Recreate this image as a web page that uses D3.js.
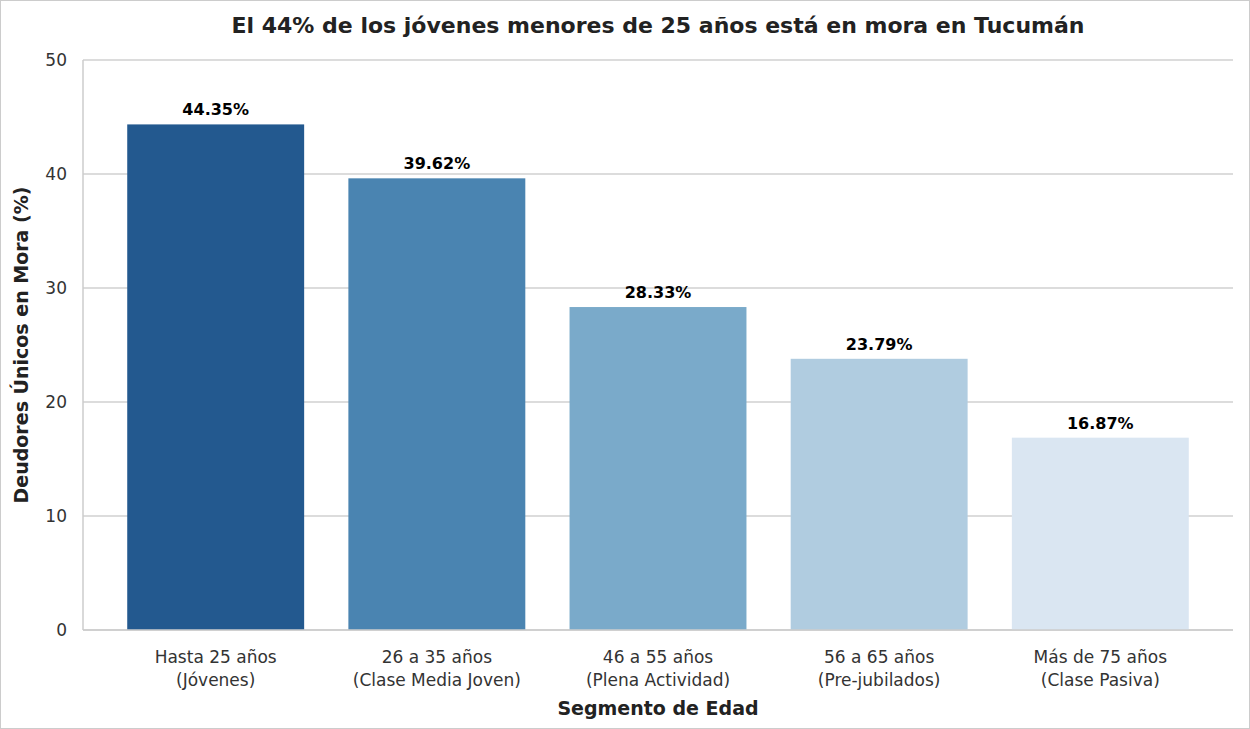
<!DOCTYPE html>
<html><head><meta charset="utf-8">
<script src="https://cdn.jsdelivr.net/npm/d3@7"></script>
<style>body{margin:0;background:#fff}svg{font-family:"DejaVu Sans",sans-serif}</style>
</head><body><svg id="c" width="1250" height="729"></svg>
<script>
const categories = ["Hasta 25 años|(Jóvenes)","26 a 35 años|(Clase Media Joven)","46 a 55 años|(Plena Actividad)","56 a 65 años|(Pre-jubilados)","Más de 75 años|(Clase Pasiva)"];
const values = [44.35, 39.62, 28.33, 23.79, 16.87];
const colors = ["#23598f","#4a84b1","#7aaaca","#b0cce0","#dae6f2"];
const yTicks = [0,10,20,30,40,50];

const svg = d3.select("#c");
svg.append("rect").attr("x",0.5).attr("y",0.5).attr("width",1249).attr("height",728).attr("fill","none").attr("stroke","#ccc");
const m = {l:83, r:1233, t:60, b:630};
const x = d3.scaleBand().domain(categories).range([m.l,m.r]).padding(0.2);
const y = d3.scaleLinear().domain([0,50]).range([m.b,m.t]);

svg.append("g").selectAll("line").data(yTicks).join("line")
  .attr("x1",m.l).attr("x2",m.r).attr("y1",d=>y(d)).attr("y2",d=>y(d))
  .attr("stroke","#d0d0d0").attr("stroke-width",1.3);

svg.append("g").selectAll("rect").data(values).join("rect")
  .attr("x",(d,i)=>x(categories[i])).attr("width",x.bandwidth())
  .attr("y",d=>y(d)).attr("height",d=>y(0)-y(d)).attr("fill",(d,i)=>colors[i]);

svg.append("g").selectAll("text").data(values).join("text")
  .attr("x",(d,i)=>x(categories[i])+x.bandwidth()/2).attr("y",d=>y(d)-9)
  .attr("text-anchor","middle").attr("font-size",16).attr("font-weight","bold").text(d=>d.toFixed(2)+"%");

svg.append("line").attr("x1",m.l).attr("x2",m.l).attr("y1",m.t).attr("y2",m.b).attr("stroke","#ccc").attr("stroke-width",1.5);
svg.append("line").attr("x1",m.l).attr("x2",m.r).attr("y1",m.b).attr("y2",m.b).attr("stroke","#ccc").attr("stroke-width",1.5);

svg.append("g").selectAll("text").data(yTicks).join("text")
  .attr("x",m.l-16).attr("y",d=>y(d)+6).attr("text-anchor","end").attr("font-size",17).attr("fill","#333").text(d=>d);

const xl = svg.append("g").selectAll("text").data(categories).join("text")
  .attr("x",d=>x(d)+x.bandwidth()/2).attr("text-anchor","middle").attr("font-size",17).attr("fill","#333");
xl.append("tspan").attr("x",d=>x(d)+x.bandwidth()/2).attr("y",663).text(d=>d.split("|")[0]);
xl.append("tspan").attr("x",d=>x(d)+x.bandwidth()/2).attr("y",686).text(d=>d.split("|")[1]);

svg.append("text").attr("x",(m.l+m.r)/2).attr("y",715).attr("text-anchor","middle").attr("font-size",19).attr("font-weight","bold").attr("fill","#222").text("Segmento de Edad");
svg.append("text").attr("transform",`translate(28,${(m.t+m.b)/2}) rotate(-90)`).attr("text-anchor","middle").attr("font-size",19).attr("font-weight","bold").attr("fill","#222").text("Deudores Únicos en Mora (%)");
svg.append("text").attr("x",658).attr("y",33).attr("text-anchor","middle").attr("font-size",22).attr("font-weight","bold").attr("fill","#222").text("El 44% de los jóvenes menores de 25 años está en mora en Tucumán");
</script></body></html>
